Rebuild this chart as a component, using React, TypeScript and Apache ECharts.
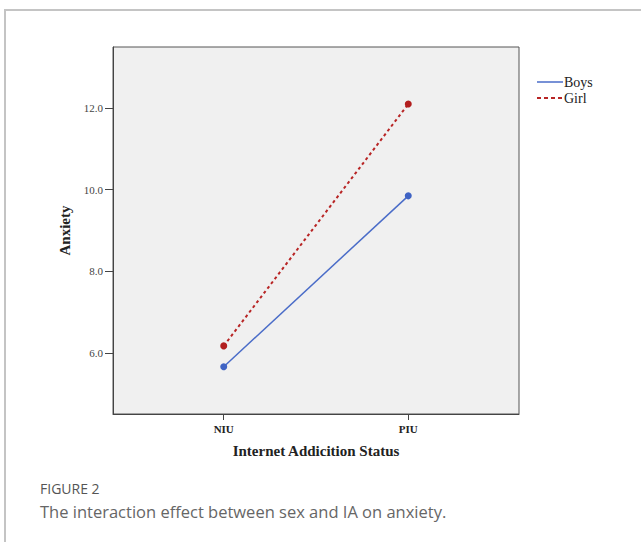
import React, { useEffect, useRef } from "react";
import * as echarts from "echarts";

const categories = ["NIU", "PIU"];
const boysValues = [5.66, 9.85];
const girlValues = [6.17, 12.1];
const yTicks = [6, 8, 10, 12];
const seriesNames = ["Boys", "Girl"];

export default function App() {
  const ref = useRef<HTMLDivElement>(null);
  useEffect(() => {
    if (!ref.current) return;
    const chart = echarts.init(ref.current, undefined, { renderer: "svg" });
    const serif = "'Liberation Serif', 'DejaVu Serif', serif";
    chart.setOption({
      animation: false,
      backgroundColor: "#ffffff",
      grid: {
        left: 113,
        top: 47,
        right: 122,
        bottom: 128,
        show: true,
        backgroundColor: "#f0f0f0",
        borderColor: "#555555",
        borderWidth: 1,
      },
      xAxis: {
        type: "value",
        min: -0.6,
        max: 1.6,
        name: "Internet Addicition Status",
        nameLocation: "middle",
        nameGap: 29,
        nameTextStyle: { fontFamily: serif, fontWeight: "bold", fontSize: 15, color: "#222" },
        axisLine: { show: true, onZero: false, lineStyle: { color: "#444", width: 1 } },
        axisTick: { show: true, customValues: [0, 1], length: 6, lineStyle: { color: "#444" } },
        axisLabel: {
          customValues: [0, 1],
          formatter: (v: number) => categories[Math.round(v)] ?? "",
          fontFamily: serif,
          fontWeight: "bold",
          fontSize: 11,
          color: "#222",
          margin: 9,
        },
        splitLine: { show: false },
      },
      yAxis: {
        type: "value",
        min: 4.5,
        max: 13.5,
        name: "Anxiety",
        nameLocation: "middle",
        nameGap: 40,
        nameRotate: 90,
        nameTextStyle: { fontFamily: serif, fontWeight: "bold", fontSize: 15, color: "#222" },
        axisLine: { show: true, onZero: false, lineStyle: { color: "#444", width: 1 } },
        axisTick: { show: true, customValues: yTicks, length: 8, lineStyle: { color: "#444" } },
        axisLabel: {
          customValues: yTicks,
          formatter: (v: number) => v.toFixed(1),
          fontFamily: serif,
          fontSize: 11,
          color: "#444",
          margin: 10,
        },
        splitLine: { show: false },
      },
      series: [
        {
          name: seriesNames[0],
          type: "line",
          data: categories.map((_, i) => [i, boysValues[i]]),
          symbol: "circle",
          symbolSize: 7,
          itemStyle: { color: "#3f63c4" },
          lineStyle: { color: "#4a6cc8", width: 1.5 },
        },
        {
          name: seriesNames[1],
          type: "line",
          data: categories.map((_, i) => [i, girlValues[i]]),
          symbol: "circle",
          symbolSize: 7,
          itemStyle: { color: "#b21e1e" },
          lineStyle: { color: "#b82525", width: 2, type: [3, 3] },
        },
      ],
      graphic: [
        { type: "line", shape: { x1: 4, y1: 10, x2: 641, y2: 10 }, style: { stroke: "#c4c4c4", lineWidth: 2 } },
        { type: "line", shape: { x1: 5, y1: 10, x2: 5, y2: 542 }, style: { stroke: "#c4c4c4", lineWidth: 2 } },
        { type: "line", shape: { x1: 537, y1: 82, x2: 563, y2: 82 }, style: { stroke: "#4a6cc8", lineWidth: 1.5 } },
        { type: "text", x: 564, y: 82, style: { text: seriesNames[0], font: `14px ${serif}`, fill: "#222", verticalAlign: "middle" } },
        { type: "line", shape: { x1: 537, y1: 98, x2: 563, y2: 98 }, style: { stroke: "#b82525", lineWidth: 2, lineDash: [4, 3] } },
        { type: "text", x: 564, y: 98, style: { text: seriesNames[1], font: `14px ${serif}`, fill: "#222", verticalAlign: "middle" } },
        { type: "text", x: 40, y: 488, style: { text: "FIGURE 2", font: "14px 'Open Sans', sans-serif", fill: "#555", verticalAlign: "middle" } },
        { type: "text", x: 40, y: 511, style: { text: "The interaction effect between sex and IA on anxiety.", font: "16.5px 'Open Sans', sans-serif", fill: "#666", verticalAlign: "middle" } },
      ],
    });
    return () => chart.dispose();
  }, []);
  return <div ref={ref} style={{ position: "absolute", left: 0, top: 0, width: 641, height: 542 }} />;
}
